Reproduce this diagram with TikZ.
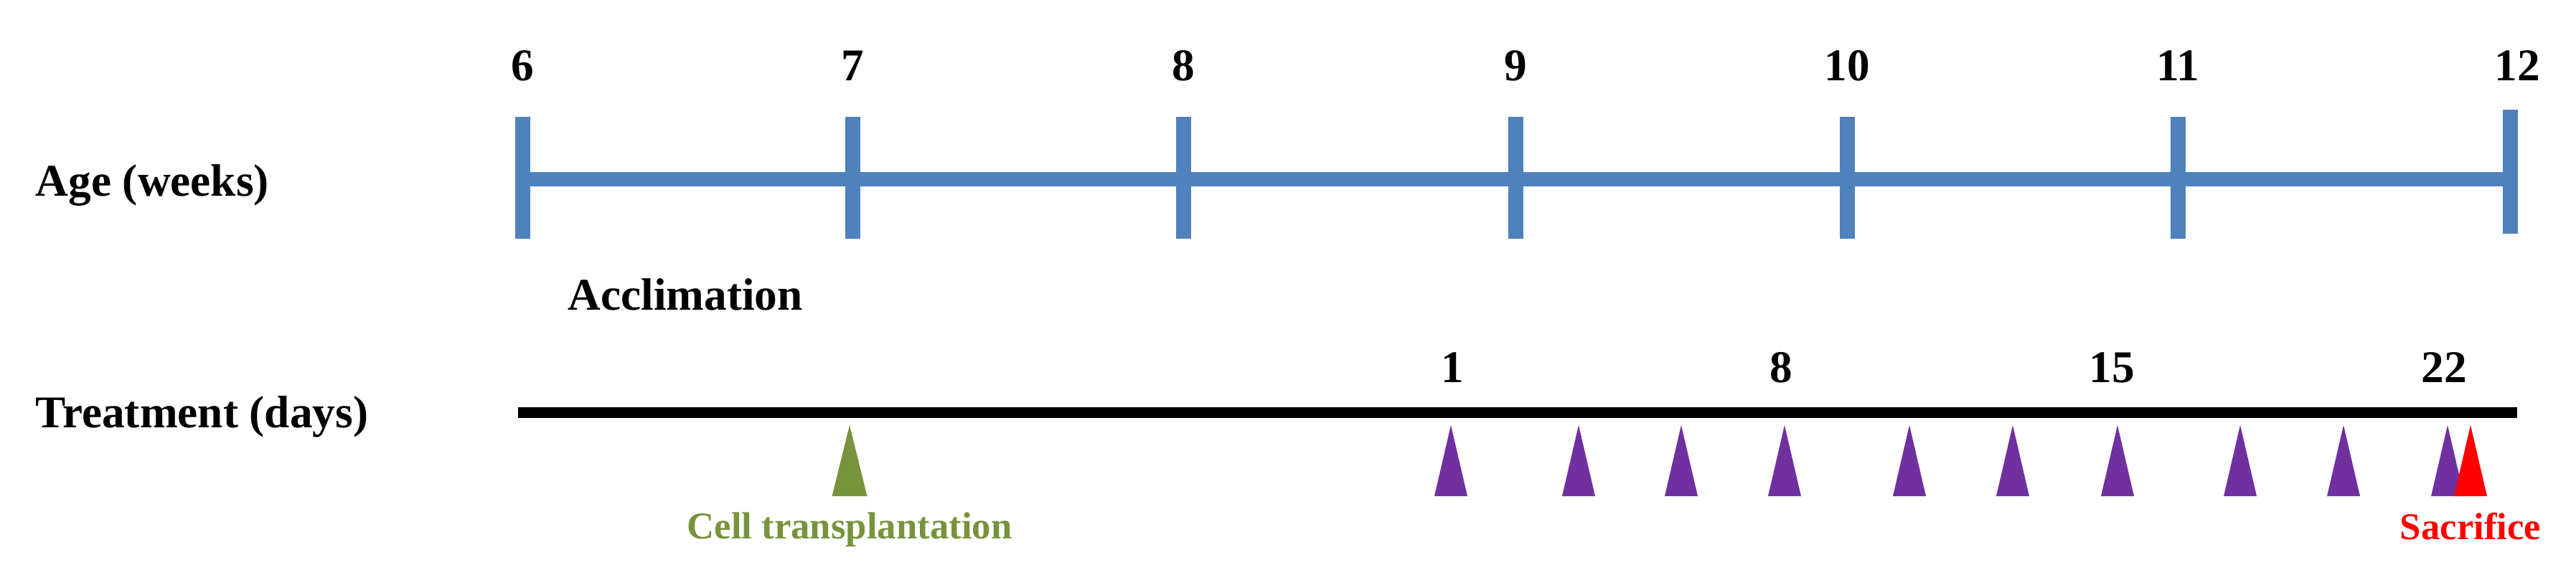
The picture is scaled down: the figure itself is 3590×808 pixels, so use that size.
\documentclass[tikz,border=0pt]{standalone}
\usepackage{fontspec}
\setmainfont{Liberation Serif}
\definecolor{tlblue}{RGB}{79,129,189}
\definecolor{tlgreen}{RGB}{119,147,60}
\definecolor{tlpurple}{RGB}{112,48,160}
\definecolor{tlred}{RGB}{255,0,0}
\tikzset{
  big/.style={font=\fontsize{18}{20}\selectfont\bfseries, inner sep=0pt, anchor=base},
  small/.style={font=\fontsize{15}{17}\selectfont\bfseries, inner sep=0pt, anchor=base},
  ageline/.style={draw=tlblue, line width=0.2cm, line cap=butt},
  agetick/.style={draw=tlblue, line width=0.21cm, line cap=butt},
  trtline/.style={draw=black, line width=0.15cm, line cap=butt},
}
\begin{document}
\begin{tikzpicture}[x=0.01cm, y=-0.01cm]
\useasboundingbox (0,0) rectangle (3590,808);
% row labels
\node[big, anchor=base west] (age) at (49,273) {Age (weeks)};
\node[big, anchor=base west] (trt) at (49,596) {Treatment (days)};
\node[big, anchor=base west] (accl) at (791,432) {Acclimation};
% age axis
\coordinate (a6) at (728,250);
\coordinate (a12) at (3498,250);
\draw[ageline] (a6) -- (a12);
\foreach \x/\n in {728/6,1188/7,1649/8,2112/9,2574/10,3035/11} {
  \draw[agetick] (\x,163) -- (\x,333);
  \node[big] (w\n) at (\x,112) {\n};
}
\draw[agetick] (3498,153) -- (3498,326);
\node[big] (w12) at (3508,112) {12};
% treatment axis
\coordinate (t0) at (722,575);
\coordinate (t1) at (3508,575);
\draw[trtline] (t0) -- (t1);
\foreach \x/\n in {2024/1,2482/8,2943/15,3406/22} {
  \node[big] (d\n) at (\x,533) {\n};
}
% cell transplantation
\fill[tlgreen] (1184,593) -- (1208.5,692) -- (1159.5,692) -- cycle;
\node[small, text=tlgreen] (cell) at (1184,751) {Cell transplantation};
% treatment injections
\foreach \x in {2022,2200,2343,2487,2661,2805,2951,3122,3266,3411} {
  \fill[tlpurple] (\x,593) -- (\x+23,692) -- (\x-23,692) -- cycle;
}
\fill[tlred] (3443,593) -- (3466,692) -- (3420,692) -- cycle;
\node[small, text=tlred] (sac) at (3443,752) {Sacrifice};
\end{tikzpicture}
\end{document}
